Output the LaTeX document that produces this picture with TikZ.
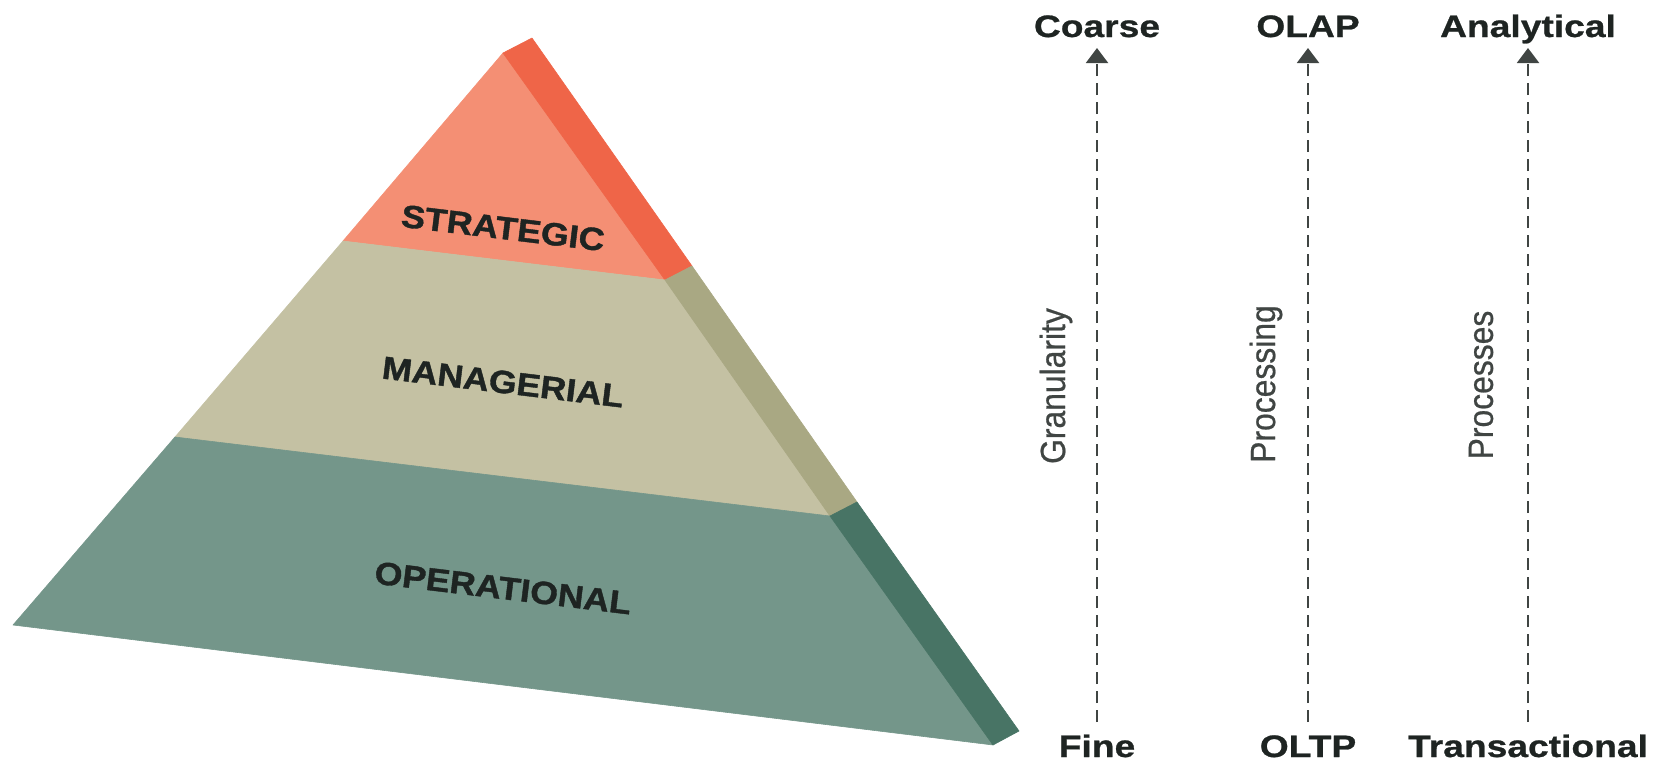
\documentclass[tikz,border=0pt]{standalone}
\usepackage{fontspec}
\usetikzlibrary{arrows.meta}
\newfontfamily\pyrfont[FakeStretch=1.12,FakeBold=1.2]{Liberation Sans}
\newfontfamily\endfont[FakeStretch=1.2,FakeBold=0.8]{Liberation Sans}
\newfontfamily\axfont[FakeStretch=0.91,FakeBold=0.6]{Liberation Sans}
\definecolor{salmonF}{HTML}{F48F74}
\definecolor{salmonS}{HTML}{EF6548}
\definecolor{tanF}{HTML}{C4C1A3}
\definecolor{tanS}{HTML}{A9A883}
\definecolor{greenF}{HTML}{74968A}
\definecolor{greenS}{HTML}{487465}
\definecolor{ink}{HTML}{1E2422}
\begin{document}
\begin{tikzpicture}[x=1pt,y=-1pt,
  face/.style={fill=#1, draw=#1, line width=0.6pt, line join=round},
  layer/.style={font=\pyrfont\bfseries\fontsize{32}{36}\selectfont, text=ink, rotate=-6.9, inner sep=0pt},
  endlabel/.style={font=\endfont\bfseries\fontsize{31}{36}\selectfont, text=ink, inner sep=0pt, anchor=base},
  axlabel/.style={font=\axfont\fontsize{35}{40}\selectfont, text=ink!85, rotate=90, inner sep=0pt},
  axis/.style={draw=ink!85, line width=2pt, dash pattern=on 12pt off 7pt, -{Triangle[width=22pt,length=15pt]}}]
\useasboundingbox (0,0) rectangle (1663,763);
% pyramid corners
\coordinate (A) at (503,53);
\coordinate (As) at (532,38);
\coordinate (S1L) at (343,241);
\coordinate (S1R) at (665,280);
\coordinate (S1Rs) at (692,266);
\coordinate (S2L) at (175,437);
\coordinate (S2R) at (830,516);
\coordinate (S2Rs) at (857,502);
\coordinate (BL) at (13,625);
\coordinate (BR) at (993,745);
\coordinate (BRs) at (1019,731);
% faces
\path[face=salmonF] (A) -- (S1R) -- (S1L) -- cycle;
\path[face=salmonS] (A) -- (As) -- (S1Rs) -- (S1R) -- cycle;
\path[face=tanF] (S1L) -- (S1R) -- (S2R) -- (S2L) -- cycle;
\path[face=tanS] (S1R) -- (S1Rs) -- (S2Rs) -- (S2R) -- cycle;
\path[face=greenF] (S2L) -- (S2R) -- (BR) -- (BL) -- cycle;
\path[face=greenS] (S2R) -- (S2Rs) -- (BRs) -- (BR) -- cycle;
% layer labels
\node[layer] (strat) at (503,228) {STRATEGIC};
\node[layer] (mgr) at (503,382) {MANAGERIAL};
\node[layer] (oper) at (503,588) {OPERATIONAL};
% end labels
\node[endlabel] (coarse) at (1097,37) {Coarse};
\node[endlabel] (olap) at (1308,37) {OLAP};
\node[endlabel] (analyt) at (1528,37) {Analytical};
\node[endlabel] (fine) at (1097,757) {Fine};
\node[endlabel] (oltp) at (1308,757) {OLTP};
\node[endlabel] (trans) at (1528,757) {Transactional};
% axes
\draw[axis] ([yshift=35pt]fine.base) -- ([yshift=-11pt]coarse.base);
\draw[axis] ([yshift=35pt]oltp.base) -- ([yshift=-11pt]olap.base);
\draw[axis] ([yshift=35pt]trans.base) -- ([yshift=-11pt]analyt.base);
% axis labels
\node[axlabel] (gran) at (1056,386) {Granularity};
\node[axlabel] (proc) at (1266,384) {Processing};
\node[axlabel] (procs) at (1481,385) {Processes};
\end{tikzpicture}
\end{document}
